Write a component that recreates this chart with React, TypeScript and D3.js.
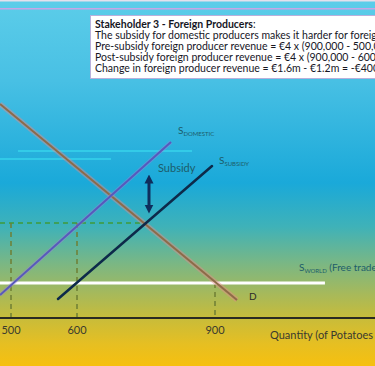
import React, { useEffect, useRef } from 'react';
import * as d3 from 'd3';

// quantities in '000 of potatoes, prices in €
const tickQuantities = [500, 600, 900];
const tickLabels = ['500', '600', '900'];
const worldPrice = 4;
const subsidyPrice = 10.86;

const demand = [
    { q: 483.3, p: 24.46 },
    { q: 947.8, p: 2.06 },
];
const supplyDomestic = [
    { q: 483.3, p: 2.63 },
    { q: 804.3, p: 20.11 },
];
const supplySubsidy = [
    { q: 571.2, p: 2.17 },
    { q: 893.5, p: 17.37 },
];
const worldLine = [
    { q: 483.3, p: worldPrice },
    { q: 1139, p: worldPrice },
];
const subsidyArrow = { q: 756.5, top: 16.57, bottom: 11.77 };

const boxTitle = 'Stakeholder 3 - Foreign Producers';
const boxLines = [
    'The subsidy for domestic producers makes it harder for foreign producers to compete',
    'Pre-subsidy foreign producer revenue = €4 x (900,000 - 500,000) = €1.6m',
    'Post-subsidy foreign producer revenue = €4 x (900,000 - 600,000) = €1.2m',
    'Change in foreign producer revenue = €1.6m - €1.2m = -€400,000',
];

type Pt = { q: number; p: number };

const App: React.FC = () => {
    const ref = useRef<SVGSVGElement | null>(null);

    useEffect(() => {
        if (!ref.current) return;
        const svg = d3.select(ref.current);
        svg.selectAll('*').remove();
        const width = 375;
        const height = 366;
        const font = 'Lato, "Open Sans", sans-serif';

        const x = d3.scaleLinear().domain([500, 600, 900]).range([11, 77, 215]);
        const y = d3.scaleLinear().domain([0, worldPrice]).range([318, 283]);

        const defs = svg.append('defs');
        const grad = defs.append('linearGradient')
            .attr('id', 'bg')
            .attr('x1', 0).attr('y1', 0).attr('x2', 0).attr('y2', 1);
        const stops: [number, string][] = [
            [0, '#5ccde9'],
            [0.22, '#48c0e4'],
            [0.5, '#1aa9d9'],
            [0.62, '#3fb2b8'],
            [0.72, '#7ab784'],
            [0.8, '#a5b95c'],
            [0.87, '#c8bc3a'],
            [0.94, '#e6bf22'],
            [1, '#f6c00f'],
        ];
        stops.forEach(([o, c]) => grad.append('stop').attr('offset', o).attr('stop-color', c));

        const marker = (id: string, orient: string) =>
            defs.append('marker')
                .attr('id', id)
                .attr('viewBox', '0 0 10 10')
                .attr('refX', 5).attr('refY', 5)
                .attr('markerWidth', 3).attr('markerHeight', 3.3)
                .attr('markerUnits', 'strokeWidth')
                .attr('orient', orient)
                .append('path')
                .attr('d', 'M0,0 L10,5 L0,10 Z')
                .attr('fill', '#0f2d5c');
        marker('arrEnd', 'auto');
        marker('arrStart', 'auto-start-reverse');

        svg.append('rect').attr('width', width).attr('height', height).attr('fill', 'url(#bg)');

        // thin artifact lines at the top
        svg.append('rect').attr('x', 0).attr('y', 0).attr('width', width).attr('height', 1.5).attr('fill', '#e4e0ec');
        svg.append('rect').attr('x', 0).attr('y', 8).attr('width', width).attr('height', 1.5).attr('fill', '#c6a6e6');
        svg.append('rect').attr('x', 18).attr('y', 150.5).attr('width', 174).attr('height', 1).attr('fill', '#3fe6f4');
        svg.append('rect').attr('x', 0).attr('y', 158.5).attr('width', 111).attr('height', 1).attr('fill', '#3fe6f4');

        const line = d3.line<Pt>().x((d) => x(d.q)).y((d) => y(d.p));

        // dashed guides
        const qCross = x.invert(x(demand[0].q) + (y(subsidyPrice) - y(demand[0].p)) /
            ((y(demand[1].p) - y(demand[0].p)) / (x(demand[1].q) - x(demand[0].q))));
        svg.append('path')
            .attr('d', line([{ q: worldLine[0].q, p: subsidyPrice }, { q: qCross, p: subsidyPrice }]))
            .attr('stroke', '#3f9a3a').attr('stroke-width', 1.5)
            .attr('stroke-dasharray', '5,4').attr('fill', 'none');
        tickQuantities.forEach((q, i) => {
            const top = i < 2 ? subsidyPrice : worldPrice;
            svg.append('path')
                .attr('d', line([{ q, p: top }, { q, p: 0 }]))
                .attr('stroke', '#6f7f35').attr('stroke-width', 1.5)
                .attr('stroke-dasharray', '5,4').attr('fill', 'none');
        });

        // world supply
        svg.append('path').attr('d', line(worldLine))
            .attr('stroke', '#ffffff').attr('stroke-width', 3).attr('fill', 'none');

        // demand
        svg.append('path').attr('d', line(demand))
            .attr('stroke', '#e48a8a').attr('stroke-opacity', 0.45).attr('stroke-width', 5).attr('fill', 'none');
        svg.append('path').attr('d', line(demand))
            .attr('stroke', '#8e6a48').attr('stroke-width', 2).attr('fill', 'none');

        // domestic supply
        svg.append('path').attr('d', line(supplyDomestic))
            .attr('stroke', '#9a88d8').attr('stroke-opacity', 0.4).attr('stroke-width', 4).attr('fill', 'none');
        svg.append('path').attr('d', line(supplyDomestic))
            .attr('stroke', '#5858bc').attr('stroke-width', 2).attr('fill', 'none');

        // subsidised supply
        svg.append('path').attr('d', line(supplySubsidy))
            .attr('stroke', '#0d2a4a').attr('stroke-width', 2.5).attr('stroke-linecap', 'round').attr('fill', 'none');

        // subsidy arrow
        svg.append('line')
            .attr('x1', x(subsidyArrow.q)).attr('x2', x(subsidyArrow.q))
            .attr('y1', y(subsidyArrow.top) + 6).attr('y2', y(subsidyArrow.bottom) - 6)
            .attr('stroke', '#0f2d5c').attr('stroke-width', 3)
            .attr('marker-start', 'url(#arrStart)').attr('marker-end', 'url(#arrEnd)');

        // x axis
        svg.append('line').attr('x1', 0).attr('x2', width).attr('y1', y(0)).attr('y2', y(0))
            .attr('stroke', '#2a2a22').attr('stroke-width', 2);
        svg.selectAll('.tick-label').data(tickQuantities).enter().append('text')
            .attr('class', 'tick-label')
            .attr('x', (d) => x(d)).attr('y', y(0) + 16)
            .attr('text-anchor', 'middle')
            .attr('font-family', font).attr('font-size', 11).attr('fill', '#3a3a2e')
            .text((_, i) => tickLabels[i]);
        svg.append('text').attr('x', 270).attr('y', y(0) + 21)
            .attr('font-family', font).attr('font-size', 11).attr('fill', '#3a3a2e')
            .text("Quantity (of Potatoes '000)");

        // labels
        const labelColor = '#1d5d6a';
        const subLabel = (px: number, py: number, sub: string, rest?: string) => {
            const t = svg.append('text').attr('x', px).attr('y', py)
                .attr('font-family', font).attr('font-size', 10).attr('fill', labelColor);
            t.append('tspan').text('S');
            t.append('tspan').attr('font-size', 6).attr('dy', 1.5).text(sub);
            if (rest) t.append('tspan').attr('font-size', 10).attr('dy', -1.5).text(rest);
        };
        const dEnd = supplyDomestic[1];
        subLabel(x(dEnd.q) + 7, y(dEnd.p) - 8, 'DOMESTIC');
        const sEnd = supplySubsidy[1];
        subLabel(x(sEnd.q) + 7, y(sEnd.p) - 2, 'SUBSIDY');
        subLabel(x(worldLine[1].q) - 26, y(worldPrice) - 12, 'WORLD', ' (Free trade)');
        svg.append('text').attr('x', x(subsidyArrow.q) + 9).attr('y', y(subsidyArrow.top) - 1)
            .attr('font-family', font).attr('font-size', 11).attr('fill', labelColor).text('Subsidy');
        svg.append('text').attr('x', x(demand[1].q) + 12).attr('y', y(demand[1].p) + 0)
            .attr('font-family', font).attr('font-size', 10).attr('fill', '#2a2a2a').text('D');

        // text box
        svg.append('rect').attr('x', 90.5).attr('y', 15.5).attr('width', 300).attr('height', 63)
            .attr('fill', '#ffffff').attr('stroke', '#b8b0dc').attr('stroke-width', 1);
        const tb = svg.append('text').attr('font-family', font).attr('font-size', 10.5).attr('fill', '#16161f');
        const title = tb.append('tspan').attr('x', 95).attr('y', 27.5);
        title.append('tspan').attr('font-weight', 'bold').text(boxTitle);
        title.append('tspan').text(':');
        boxLines.forEach((l, i) => {
            tb.append('tspan').attr('x', 95).attr('y', 38.5 + i * 11).text(l);
        });
    }, []);

    return (
        <svg
            ref={ref}
            width={375}
            height={366}
            style={{ position: 'fixed', left: 0, top: 0, display: 'block' }}
        />
    );
};

export default App;
